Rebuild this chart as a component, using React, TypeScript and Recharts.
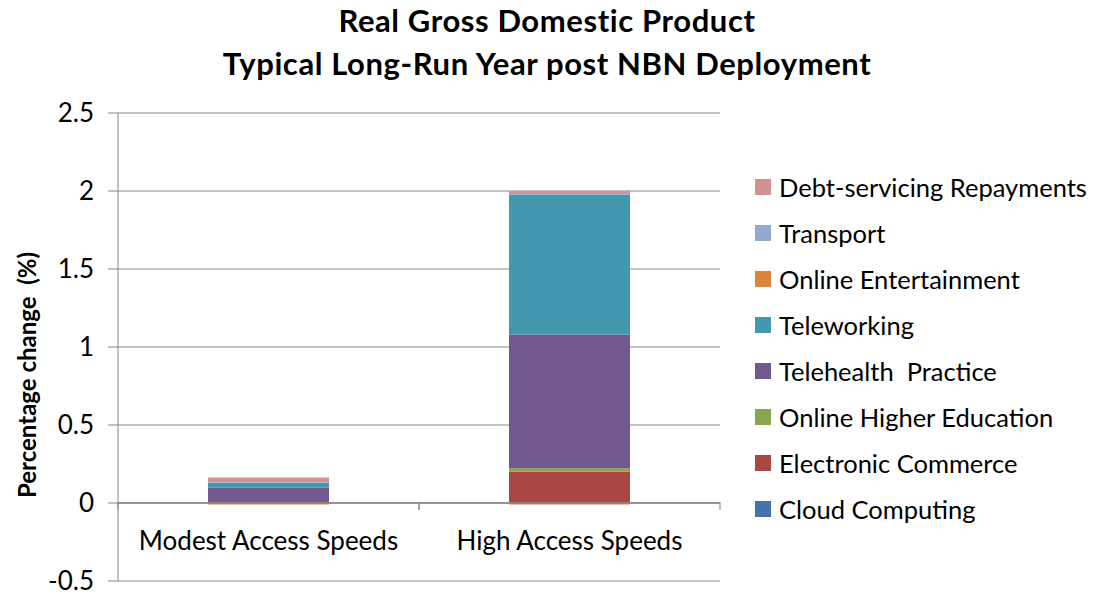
import { BarChart, Bar, XAxis, YAxis, CartesianGrid, ReferenceLine } from 'recharts';

const categories = ['Modest Access Speeds', 'High Access Speeds'];

// stacked bottom to top
const seriesNames = [
  'Cloud Computing',
  'Electronic Commerce',
  'Online Higher Education',
  'Telehealth  Practice',
  'Teleworking',
  'Online Entertainment',
  'Transport',
  'Debt-servicing Repayments',
];

const cloudComputing = [0.0, 0.003];
const electronicCommerce = [0.002, 0.197];
const onlineHigherEducation = [0.001, 0.023];
const telehealthPractice = [0.095, 0.856];
const teleworking = [0.03, 0.899];
const onlineEntertainment = [-0.01, -0.01];
const transport = [0.005, 0.002];
const debtServicing = [0.03, 0.02];

const yTicks = [-0.5, 0, 0.5, 1, 1.5, 2, 2.5];

const seriesValues = [
  cloudComputing,
  electronicCommerce,
  onlineHigherEducation,
  telehealthPractice,
  teleworking,
  onlineEntertainment,
  transport,
  debtServicing,
];

const colors = ['#4572A7', '#AA4643', '#89A54E', '#71588F', '#4198AF', '#DB843D', '#93A9CF', '#D19392'];

const chartData = categories.map((name, i) => {
  const row: Record<string, any> = { name };
  seriesNames.forEach((s, j) => {
    row[s] = seriesValues[j][i];
  });
  return row;
});

const FONT = 'Lato, "Open Sans", sans-serif';
const AXIS_GRAY = '#868686';

function CategoryTick(props: any) {
  const { x, y, payload } = props;
  const half = 150.5;
  // y here is the bottom of the plot (-0.5); the category axis sits at 0
  return (
    <g>
      <line x1={x - half} x2={x - half} y1={y - 79} y2={y - 71} stroke={AXIS_GRAY} />
      <line x1={x + half} x2={x + half} y1={y - 79} y2={y - 71} stroke={AXIS_GRAY} />
      <text x={x} y={y - 41} textAnchor="middle" dominantBaseline="central" fontSize={26} fill="#000" fontFamily={FONT}>
        {payload.value}
      </text>
    </g>
  );
}

function LegendList() {
  const items = seriesNames.map((s, i) => ({ s, c: colors[i] })).reverse();
  return (
    <div style={{ fontFamily: FONT, fontSize: 25.5, color: '#000' }}>
      {items.map((it) => (
        <div key={it.s} style={{ display: 'flex', alignItems: 'center', height: 46, whiteSpace: 'pre' }}>
          <span style={{ width: 16, height: 16, background: it.c, display: 'inline-block', marginRight: 8 }} />
          <span>{it.s}</span>
        </div>
      ))}
    </div>
  );
}

export default function App() {
  return (
    <div style={{ position: 'absolute', left: 0, top: 0, width: 1094, height: 595, background: '#fff' }}>
      <div
        style={{
          position: 'absolute',
          left: 0,
          top: -1,
          width: 1094,
          textAlign: 'center',
          fontFamily: FONT,
          fontWeight: 700,
          fontSize: 31,
          letterSpacing: 0.6,
          lineHeight: '43px',
          color: '#000',
        }}
      >
        <div>Real Gross Domestic Product</div>
        <div>Typical Long-Run Year post NBN Deployment</div>
      </div>
      <BarChart
        width={1094}
        height={595}
        data={chartData}
        stackOffset="sign"
        barSize={121}
        margin={{ top: 113, right: 374, bottom: 0, left: 0 }}
      >
        <CartesianGrid horizontal vertical={false} stroke={AXIS_GRAY} />
        <XAxis
          dataKey="name"
          axisLine={false}
          tickLine={false}
          tickSize={0}
          tickMargin={0}
          height={14}
          interval={0}
          tick={<CategoryTick />}
        />
        <YAxis
          type="number"
          domain={[-0.5, 2.5]}
          ticks={yTicks}
          interval={0}
          width={118}
          axisLine={{ stroke: AXIS_GRAY }}
          tickLine={{ stroke: AXIS_GRAY }}
          tickSize={10}
          tickMargin={14}
          tick={{ fontSize: 26, fill: '#000', fontFamily: FONT }}
        />
        {seriesNames.map((s, i) => (
          <Bar key={s} dataKey={s} stackId="a" fill={colors[i]} isAnimationActive={false} />
        ))}
        <ReferenceLine y={0} stroke={AXIS_GRAY} strokeWidth={1.5} />
      </BarChart>
      <svg style={{ position: 'absolute', left: 0, top: 0 }} width={60} height={595}>
        <text
          x={0}
          y={0}
          transform="translate(26,375) rotate(-90)"
          textAnchor="middle"
          dominantBaseline="central"
          fontFamily={FONT}
          fontWeight={700}
          fontSize={24}
          fill="#000"
          style={{ whiteSpace: 'pre' }}
        >
          Percentage change  (%)
        </text>
      </svg>
      <div style={{ position: 'absolute', left: 755, top: 164, width: 340 }}>
        <LegendList />
      </div>
    </div>
  );
}
